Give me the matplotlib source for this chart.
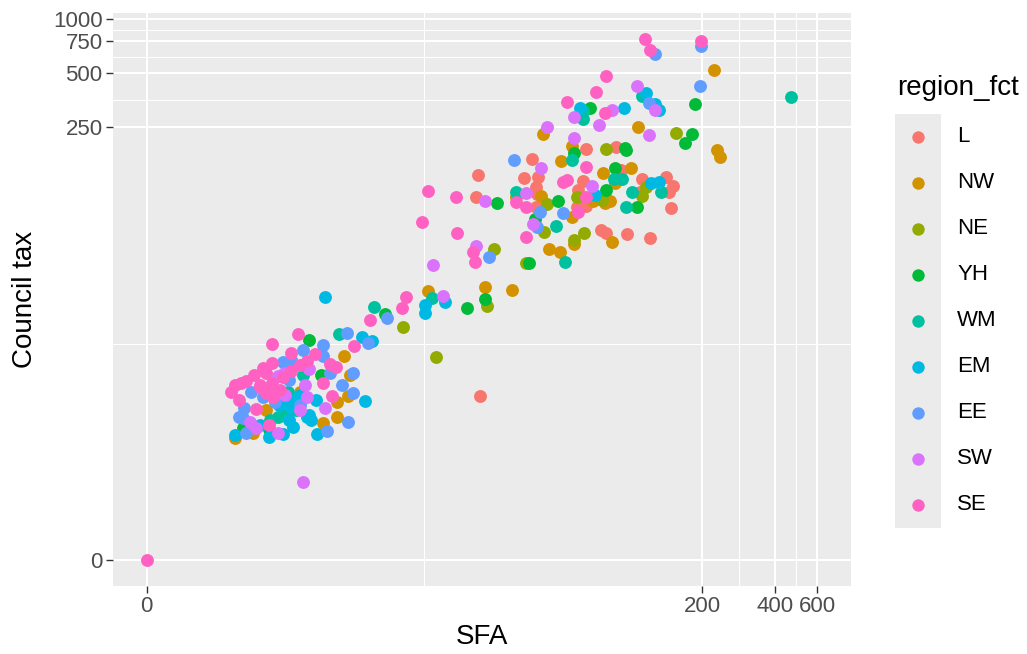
import numpy as np
import matplotlib
matplotlib.use("Agg")
import matplotlib.pyplot as plt

plt.rcParams['font.family'] = ['Liberation Sans', 'DejaVu Sans']

# region order as in the legend
regions = ['L', 'NW', 'NE', 'YH', 'WM', 'EM', 'EE', 'SW', 'SE']
colours = ['#F8766D', '#D39200', '#93AA00', '#00BA38', '#00C19F',
           '#00B9E3', '#619CFF', '#DB72FB', '#FF61C3']

# values (SFA, council tax)
sfa_L = [23.5, 36.7, 23.0, 39.3, 41.6, 40.8, 41.2, 60.9, 64.4, 60.3, 66.3, 41.0, 65.7,
         88.2, 92.5, 113, 142, 151, 146, 110, 148, 76.5, 80.2, 98, 121, 23.9]
ctax_L = [136, 130, 102, 166, 132, 116, 106, 112, 126, 90, 91, 90, 189,
          194, 145, 129, 132, 118, 109, 109, 89, 67, 65, 64, 61, 8.0]

sfa_NW = [33.7, 14.5, 25.1, 32.5, 43.6, 57.5, 52.2, 42.8, 58, 46.2, 51.7, 59.1, 84.9,
          77.9, 101, 87.4, 70.9, 79.4, 83.3, 108, 223, 231, 238, 6.4, 6.8, 6.7, 6.0,
          6.0, 5.2, 4.1, 2.8, 2.4, 1.9]
ctax_NW = [102, 31, 32.5, 31.3, 229, 196, 162, 104, 79, 53, 51, 56, 58,
           139, 148, 122, 97, 95, 97, 250, 518, 187, 171, 13.4, 10.5, 8.0, 7.4,
           6.0, 5.6, 8.4, 6.6, 4.85, 4.5]

sfa_NE = [27.3, 37.1, 25.6, 11.5, 15.7, 60.3, 45.3, 44.4, 59.1, 65, 80.2, 156, 117, 113, 77.2]
ctax_NE = [53, 44, 25.5, 19.5, 13.2, 102, 94, 66, 59, 65, 189, 232, 116, 104, 99]

sfa_YH = [28.1, 38.5, 25.1, 21.1, 9.6, 4.5, 5.1, 2.1, 2.9, 50.3, 40.4, 59.1, 96.1,
          87.4, 80.2, 107, 182, 170, 187, 68.9, 97]
ctax_YH = [95, 44, 27.9, 24.9, 23, 16.5, 10.5, 5.2, 5.1, 97, 77, 180, 191,
           148, 112, 90, 229, 204, 336, 319, 187]

sfa_WM = [33.7, 15.2, 8.6, 6.1, 4.2, 3.6, 3.35, 3.2, 3.55, 64.4, 64.4, 57.9, 49.8,
          53.8, 86.6, 93.4, 135, 102, 97, 113, 468, 3.9, 2.92]
ctax_WM = [109, 28.2, 25.2, 17.8, 10.5, 8.4, 6.9, 6.0, 6.2, 307, 277, 164, 71,
           45, 129, 129, 109, 109, 90, 372, 367, 6.63, 5.8]

sfa_EM = [17.2, 14.1, 14.2, 5.3, 7.7, 8.5, 7.9, 4.85, 4.5, 4.4, 4.6, 3.7, 1.9, 2.9,
          3.4, 3.8, 4.9, 62.6, 72.2, 123, 132, 117, 128, 132, 95.2, 3.9, 3.65,
          3.65, 4.07, 3.27, 2.6]
ctax_EM = [26.8, 25.8, 23.3, 28.6, 17.1, 16.3, 7.5, 7.6, 6.2, 6.0, 5.8, 6.9, 4.7, 4.6,
           4.8, 5.3, 4.8, 319, 105, 122, 124, 386, 336, 311, 319, 7.6, 5.8,
           7.57, 8.08, 7.08, 5.42]

sfa_EE = [26.1, 9.8, 33.1, 42.4, 53.2, 41.2, 6.6, 5.2, 4.2, 8.1, 3.4, 5.2, 7.0, 5.55,
          6.3, 7.0, 2.7, 2.35, 2.15, 4.1, 6.7, 2.1, 2.2, 5.4, 3.7, 127, 197, 195, 120, 2.0,
          3.12, 3.65]
ctax_EE = [48, 21.8, 164, 85, 83.5, 70, 18.0, 15.5, 14.5, 15.8, 12.4, 13.4, 10.8, 10.8,
           9.2, 8.3, 7.9, 8.4, 6.8, 7.1, 5.65, 5.95, 4.85, 5.0, 12.7, 635, 704, 422, 340, 6.0,
           7.37, 9.83]

sfa_SW = [25.1, 37.1, 23.2, 15.3, 16.8, 45.3, 58.6, 58.6, 42.8, 40.0, 75, 120, 69.6,
          107, 128, 84.9, 4.5, 3.2, 4.4, 5.3, 2.3, 2.5, 3.2, 4.2, 4.1, 3.45, 3.46, 4.29]
ctax_SW = [97, 108, 55, 43, 29, 250, 284, 217, 148, 72.6, 257, 226, 118,
           422, 311, 311, 11.3, 10.4, 7.9, 6.8, 5.65, 5.2, 4.85, 2.35, 6.6, 10.8, 8.08, 9.21]

sfa_SE = [0, 14.6, 19.0, 33.7, 37.4, 13.7, 19.3, 22.4, 22.8, 11.8, 11.3, 8.3, 55.3,
          66.3, 53.2, 55.3, 66.3, 60.9, 37.4, 116, 121, 198, 80.2, 72.9, 79.4,
          4.0, 3.0, 7.1, 3.7, 4.8, 4.4, 5.55, 5.95, 3.0, 2.7, 2.8, 3.7, 3.4, 5.2,
          2.2, 2.05, 1.8, 2.0, 5.7, 2.6, 3.0, 3.0, 2.5, 2.9, 3.05, 1.9, 2.6, 3.3,
          2.79, 2.44, 4.07]
ctax_SE = [0, 111, 102, 96, 90, 74.5, 65, 51, 45, 28.6, 24.9, 21.3, 344,
           150, 124, 127, 102, 85, 61.5, 770, 669, 750, 479, 391, 299,
           17.8, 15.7, 15.3, 13.9, 13.8, 12.6, 12.1, 11.6, 12.3, 11.5, 10.8, 11.0, 10.2, 9.45,
           9.7, 9.45, 8.4, 7.6, 8.0, 9.0, 9.45, 8.4, 6.7, 5.4, 7.9, 9.2, 9.2, 8.6,
           8.3, 10.5, 11.95]

sfa = [sfa_L, sfa_NW, sfa_NE, sfa_YH, sfa_WM, sfa_EM, sfa_EE, sfa_SW, sfa_SE]
ctax = [ctax_L, ctax_NW, ctax_NE, ctax_YH, ctax_WM, ctax_EM, ctax_EE, ctax_SW, ctax_SE]

x_breaks = [0, 200, 400, 600]
y_breaks = [0, 250, 500, 750, 1000]


# pseudo-log transform (asinh), like scales::pseudo_log_trans
def fwd(v):
    return np.arcsinh(np.asarray(v, dtype=float) / 2)


def inv(v):
    return 2 * np.sinh(np.asarray(v, dtype=float))


def minor_breaks(b):
    t = fwd(b)
    return list(inv((t[:-1] + t[1:]) / 2))


fig = plt.figure(figsize=(10.27, 6.54), dpi=100)
ax = fig.add_axes([113 / 1027, 1 - 586 / 654, 738 / 1027, 573 / 654])
ax.set_facecolor('#EBEBEB')
for s in ax.spines.values():
    s.set_visible(False)

ax.set_xscale('function', functions=(fwd, inv))
ax.set_yscale('function', functions=(fwd, inv))

for xs, ys, c in zip(sfa, ctax, colours):
    ax.scatter(xs, ys, s=86, color=c, linewidths=0, zorder=3)

# limits with ggplot's 5% expansion in transformed space
tx = fwd(600)
ax.set_xlim(inv(-0.05 * tx), inv(1.05 * tx))
ty = fwd(max(max(v) for v in ctax))
ax.set_ylim(inv(-0.05 * ty), inv(1.05 * ty))

ax.set_xticks(x_breaks)
ax.set_xticklabels([str(v) for v in x_breaks])
ax.set_xticks(minor_breaks(x_breaks), minor=True)
ax.set_yticks(y_breaks)
ax.set_yticklabels([str(v) for v in y_breaks])
ax.set_yticks(minor_breaks(y_breaks), minor=True)

ax.grid(True, which='major', color='white', linewidth=1.5, zorder=0)
ax.grid(True, which='minor', color='white', linewidth=0.75, zorder=0)
ax.set_axisbelow(True)
ax.tick_params(which='major', length=5, width=1.0, color='#333333',
               labelsize=16, labelcolor='#4D4D4D', pad=2.5)
ax.tick_params(which='minor', length=0)

ax.set_xlabel('SFA', fontsize=20)
ax.set_ylabel('Council tax', fontsize=20)
ax.xaxis.set_label_coords(0.5, -0.066)
ax.yaxis.set_label_coords(-0.102, 0.5)

# legend drawn ggplot-style
fig.text(897 / 1027, 1 - 88 / 654, 'region_fct', fontsize=20, va='center', ha='left')
lax = fig.add_axes([895 / 1027, 1 - 528 / 654, 46 / 1027, 414 / 654])
lax.set_facecolor('#EBEBEB')
lax.set_xlim(0, 1)
lax.set_ylim(len(regions), 0)
lax.set_xticks([])
lax.set_yticks([])
for s in lax.spines.values():
    s.set_visible(False)
for i, (r, c) in enumerate(zip(regions, colours)):
    lax.scatter([0.5], [i + 0.5], s=80, color=c, linewidths=0)
    lax.text(1.35, i + 0.5, r, fontsize=16, va='center', ha='left', clip_on=False)

fig.savefig('out.png', dpi=100)
